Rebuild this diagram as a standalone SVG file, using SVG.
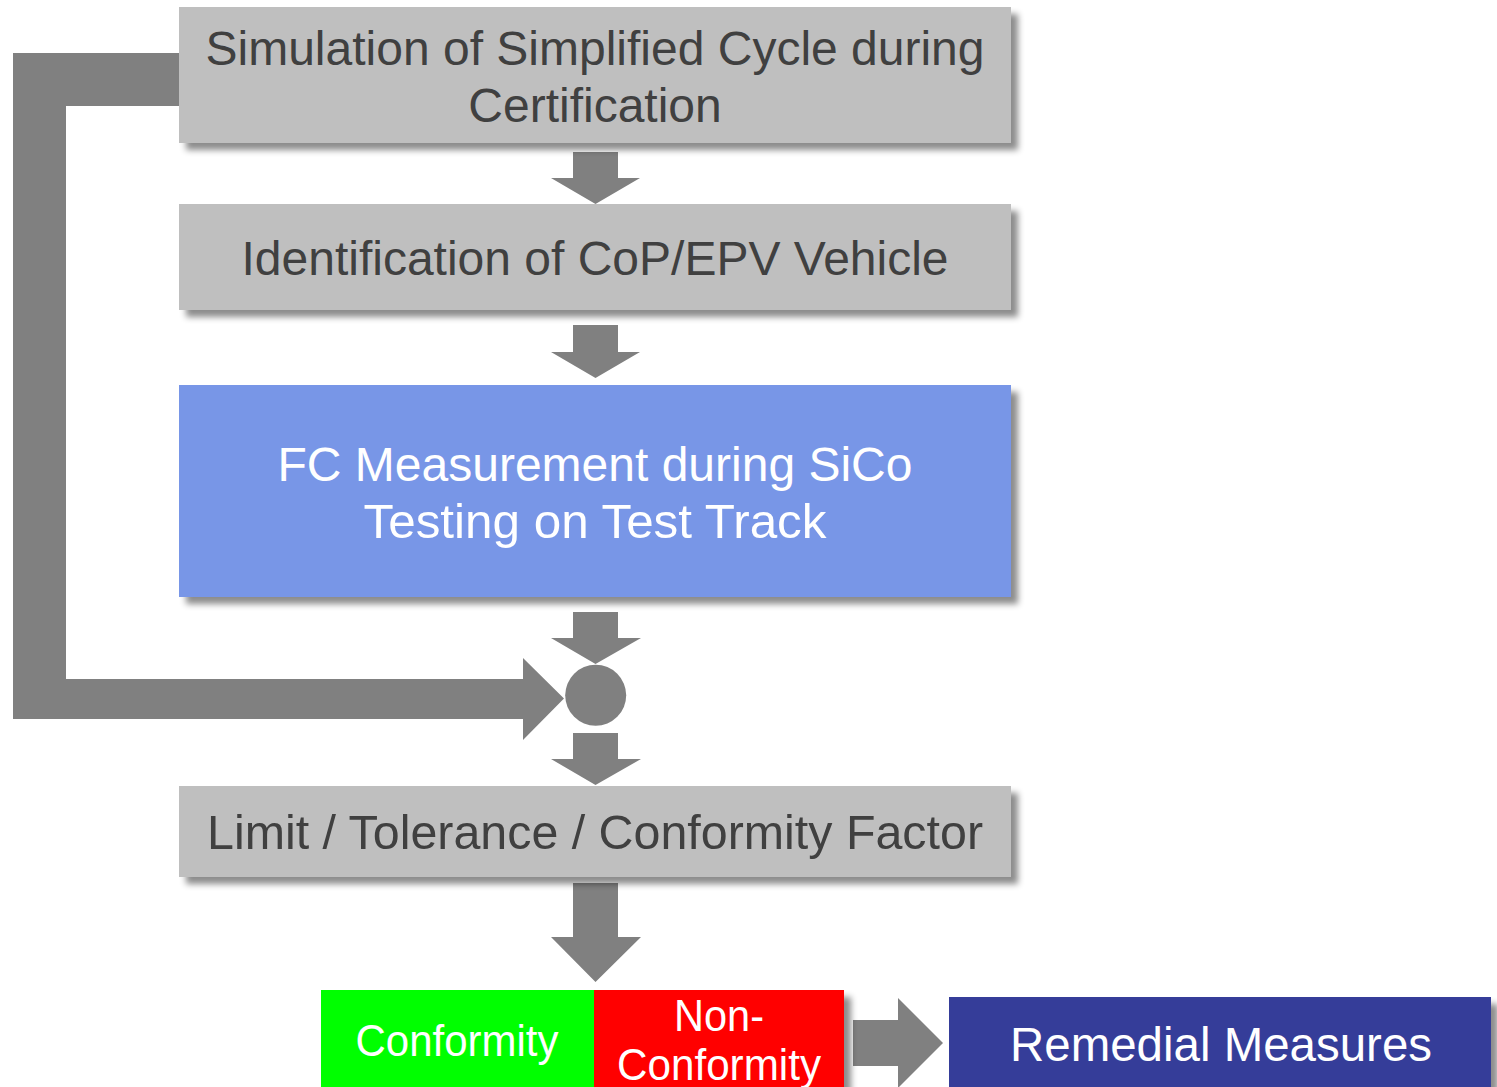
<svg xmlns="http://www.w3.org/2000/svg" width="1497" height="1087" viewBox="0 0 1497 1087">
  <defs>
    <filter id="shadow" x="-5%" y="-10%" width="115%" height="130%">
      <feDropShadow dx="7" dy="7" stdDeviation="3" flood-color="#000" flood-opacity="0.45"/>
    </filter>
  </defs>
  <style>
    .arrow { fill: #808080; }
    .box-gray { fill: #BFBFBF; filter: url(#shadow); }
    .box-blue { fill: #7896E7; filter: url(#shadow); }
    .txt { font-family: "Liberation Sans", Arial, sans-serif; text-anchor: middle; }
    .dark { fill: #404040; font-size: 48px; }
    .light { fill: #FFFFFF; font-size: 48px; }
    .small { fill: #FFFFFF; font-size: 44px; }
  </style>
  <rect width="1497" height="1087" fill="#FFFFFF"/>

  <!-- connectors: block arrows and the feedback loop -->
  <g id="connectors">
    <polygon class="arrow" points="179,53 13,53 13,719 523,719 523,740 564,698.5 523,658 523,679 66,679 66,106 179,106"/>
    <polygon class="arrow" points="573,152 618,152 618,178 640,178 595.5,204 551,178 573,178"/>
    <polygon class="arrow" points="573,325 618,325 618,352 640,352 595.5,378 551,352 573,352"/>
    <polygon class="arrow" points="573,612 618,612 618,638 641,638 595.5,664 551,638 573,638"/>
    <polygon class="arrow" points="573,733 618,733 618,759 641,759 595.5,785 551,759 573,759"/>
    <polygon class="arrow" points="573,883 618,883 618,937 641,937 595.5,982 551,937 573,937"/>
    <polygon class="arrow" points="853,1020 898,1020 898,998 943,1043 898,1088 898,1066 853,1066"/>
  </g>

  <g id="simulation">
    <rect class="box-gray" x="179" y="7" width="832" height="136"/>
    <text class="txt dark" x="595" y="65">Simulation of Simplified Cycle during</text>
    <text class="txt dark" x="595" y="122">Certification</text>
  </g>

  <g id="identification">
    <rect class="box-gray" x="179" y="204" width="832" height="106"/>
    <text class="txt dark" x="595" y="275">Identification of CoP/EPV Vehicle</text>
  </g>

  <g id="measurement">
    <rect class="box-blue" x="179" y="385" width="832" height="212"/>
    <text class="txt light" x="595" y="481">FC Measurement during SiCo</text>
    <text class="txt light" x="595" y="538" textLength="463" lengthAdjust="spacingAndGlyphs">Testing on Test Track</text>
  </g>

  <g id="junction">
    <circle class="arrow" cx="595.7" cy="695.3" r="30.5"/>
  </g>

  <g id="limit">
    <rect class="box-gray" x="179" y="786" width="832" height="91"/>
    <text class="txt dark" x="595" y="849" textLength="776" lengthAdjust="spacingAndGlyphs">Limit / Tolerance / Conformity Factor</text>
  </g>

  <g id="non-conformity">
    <rect x="594" y="990" width="250" height="100" fill="#FF0000" filter="url(#shadow)"/>
    <text class="txt small" x="719" y="1031" textLength="90" lengthAdjust="spacingAndGlyphs">Non-</text>
    <text class="txt small" x="719" y="1080" textLength="204" lengthAdjust="spacingAndGlyphs">Conformity</text>
  </g>

  <g id="conformity">
    <rect x="321" y="990" width="273" height="100" fill="#00FF00"/>
    <text class="txt small" x="457" y="1056" textLength="203" lengthAdjust="spacingAndGlyphs">Conformity</text>
  </g>

  <g id="remedial">
    <rect x="949" y="997" width="542" height="95" fill="#343E99" filter="url(#shadow)"/>
    <text class="txt light" x="1221" y="1061" textLength="422" lengthAdjust="spacingAndGlyphs">Remedial Measures</text>
  </g>
</svg>
